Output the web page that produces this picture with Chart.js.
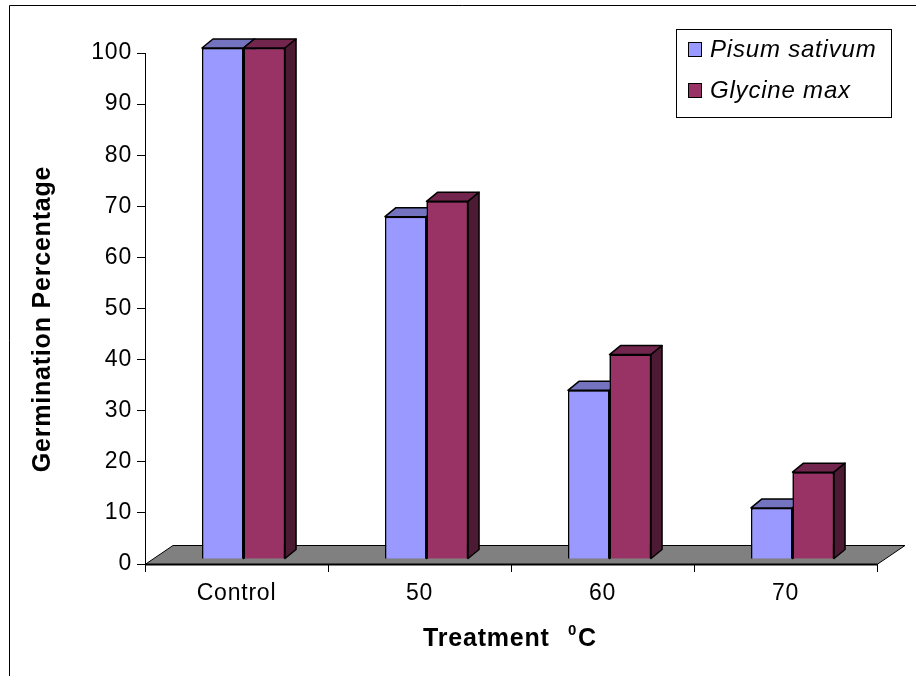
<!DOCTYPE html>
<html><head><meta charset="utf-8">
<script src="https://cdn.jsdelivr.net/npm/chart.js@4"></script>
<style>html,body{margin:0;padding:0;background:#fff;overflow:hidden}#wrap{width:916px;height:676px;position:relative}</style>
</head><body><div id="wrap"><canvas id="c" width="916" height="676"></canvas></div>
<script>
const categories = ['Control', '50', '60', '70'];
const pisumSativum = [100, 67, 33, 10];
const glycineMax = [100, 70, 40, 17];
const seriesNames = ['Pisum sativum', 'Glycine max'];
const yTickMin = 0, yTickMax = 100, yTickStep = 10;
const yTitle = 'Germination Percentage';
const xTitleParts = ['Treatment', '0', 'C'];

const FONT = '"Liberation Sans", Arial, sans-serif';
const COLORS = ['#9999FF', '#993366'];
// 3D look: bar shift, bar depth, floor depth
const SH = {bx: 7, by: -5, dx: 11, dy: -9, fx: 28, fy: -19};

function shade(hex, f) {
  const n = parseInt(hex.slice(1), 16);
  const r = Math.round(((n >> 16) & 255) * f), g = Math.round(((n >> 8) & 255) * f), b = Math.round((n & 255) * f);
  return 'rgb(' + r + ',' + g + ',' + b + ')';
}
function poly(ctx, pts, fill) {
  ctx.beginPath();
  ctx.moveTo(pts[0][0], pts[0][1]);
  for (let i = 1; i < pts.length; i++) ctx.lineTo(pts[i][0], pts[i][1]);
  ctx.closePath();
  ctx.fillStyle = fill; ctx.fill();
  ctx.stroke();
}

const threeD = {
  id: 'threeD',
  beforeDraw(chart) {
    const ctx = chart.ctx;
    ctx.save();
    ctx.fillStyle = '#fff';
    ctx.fillRect(0, 0, chart.width, chart.height);
    ctx.strokeStyle = '#000'; ctx.lineWidth = 1;
    ctx.beginPath();
    ctx.moveTo(9.5, chart.height); ctx.lineTo(9.5, 5.5); ctx.lineTo(chart.width, 5.5);
    ctx.stroke();
    ctx.restore();
    if ('letterSpacing' in ctx) ctx.letterSpacing = '0.8px';
  },
  beforeDatasetsDraw(chart) {
    const ctx = chart.ctx, xs = chart.scales.x, ys = chart.scales.y;
    const y0 = Math.round(ys.getPixelForValue(0)) + 0.5;
    const l = xs.left, r = xs.right;
    ctx.save();
    ctx.strokeStyle = '#000'; ctx.lineWidth = 1;
    poly(ctx, [[l, y0], [r, y0], [r + SH.fx, y0 + SH.fy], [l + SH.fx, y0 + SH.fy]], '#808080');
    ctx.lineWidth = 2;
    ctx.beginPath(); ctx.moveTo(l, y0); ctx.lineTo(r, y0); ctx.stroke();
    ctx.restore();
    ctx.save();
    ctx.translate(SH.bx, SH.by);
  },
  afterDatasetsDraw(chart) {
    const ctx = chart.ctx;
    const metas = chart.data.datasets.map((d, j) => chart.getDatasetMeta(j));
    const n = chart.data.labels.length;
    for (let i = 0; i < n; i++) {
      metas.forEach((meta, j) => {
        const el = meta.data[i];
        if (!el) return;
        const col = chart.data.datasets[j].backgroundColor;
        el.draw(ctx);
        const p = el.getProps(['x', 'y', 'base', 'width'], true);
        const L = p.x - p.width / 2, R = p.x + p.width / 2, T = p.y, B = p.base;
        ctx.save();
        ctx.strokeStyle = '#000'; ctx.lineWidth = 1.5; ctx.lineJoin = 'round';
        poly(ctx, [[L, T], [R, T], [R + SH.dx, T + SH.dy], [L + SH.dx, T + SH.dy]], shade(col, 0.75));
        poly(ctx, [[R, T], [R + SH.dx, T + SH.dy], [R + SH.dx, B + SH.dy], [R, B]], shade(col, 0.5));
        ctx.restore();
      });
    }
    ctx.restore();
  },
  afterDraw(chart) {
    const ctx = chart.ctx;
    ctx.save();
    // y axis title
    ctx.save();
    ctx.translate(43, 319);
    ctx.rotate(-Math.PI / 2);
    ctx.fillStyle = '#000';
    ctx.font = 'bold 25px ' + FONT;
    ctx.textAlign = 'center'; ctx.textBaseline = 'middle';
    ctx.fillText(yTitle, 0, 0);
    ctx.restore();
    // legend
    ctx.strokeStyle = '#000'; ctx.lineWidth = 1;
    ctx.fillStyle = '#fff';
    ctx.fillRect(676, 29, 215, 88);
    ctx.strokeRect(676.5, 29.5, 215, 88);
    const rows = [57, 98];
    chart.data.datasets.forEach((ds, i) => {
      ctx.fillStyle = ds.backgroundColor;
      ctx.fillRect(688.5, rows[i] - 14.5, 13, 14);
      ctx.strokeRect(688.5, rows[i] - 14.5, 13, 14);
      ctx.fillStyle = '#000';
      ctx.font = 'italic 24px ' + FONT;
      ctx.textBaseline = 'alphabetic'; ctx.textAlign = 'left';
      ctx.fillText(ds.label, 710, rows[i]);
    });
    // x axis title with superscript
    ctx.fillStyle = '#000';
    ctx.textBaseline = 'alphabetic'; ctx.textAlign = 'left';
    ctx.font = 'bold 25px ' + FONT;
    ctx.fillText(xTitleParts[0], 423, 646);
    ctx.font = 'bold 15px ' + FONT;
    ctx.fillText(xTitleParts[1], 568, 635);
    ctx.font = 'bold 25px ' + FONT;
    ctx.fillText(xTitleParts[2], 578, 646);
    ctx.restore();
  }
};

new Chart(document.getElementById('c'), {
  type: 'bar',
  data: {
    labels: categories,
    datasets: [
      {label: seriesNames[0], data: pisumSativum, backgroundColor: COLORS[0], borderColor: '#000', borderWidth: 1.5, clip: false},
      {label: seriesNames[1], data: glycineMax, backgroundColor: COLORS[1], borderColor: '#000', borderWidth: 1.5, clip: false}
    ]
  },
  options: {
    responsive: false,
    animation: false,
    devicePixelRatio: 1,
    layout: {padding: {top: 53, right: 39, left: 0, bottom: 0}},
    plugins: {legend: {display: false}, tooltip: {enabled: false}},
    datasets: {bar: {categoryPercentage: 0.454, barPercentage: 1}},
    scales: {
      x: {
        offset: true,
        grid: {display: true, drawOnChartArea: false, offset: true, tickLength: 8, color: '#000'},
        border: {display: true, color: '#000', width: 1},
        ticks: {color: '#000', font: {family: FONT, size: 23}, padding: 8, maxRotation: 0},
        afterFit(s) { s.height = 112; }
      },
      y: {
        min: yTickMin, max: yTickMax,
        grid: {display: true, drawOnChartArea: false, tickLength: 8, color: '#000'},
        border: {display: true, color: '#000', width: 1},
        ticks: {stepSize: yTickStep, color: '#000', font: {family: FONT, size: 23}, padding: 5},
        title: {display: false, text: yTitle},
        afterFit(s) { s.width = 145; }
      }
    }
  },
  plugins: [threeD]
});
</script>
</body></html>
